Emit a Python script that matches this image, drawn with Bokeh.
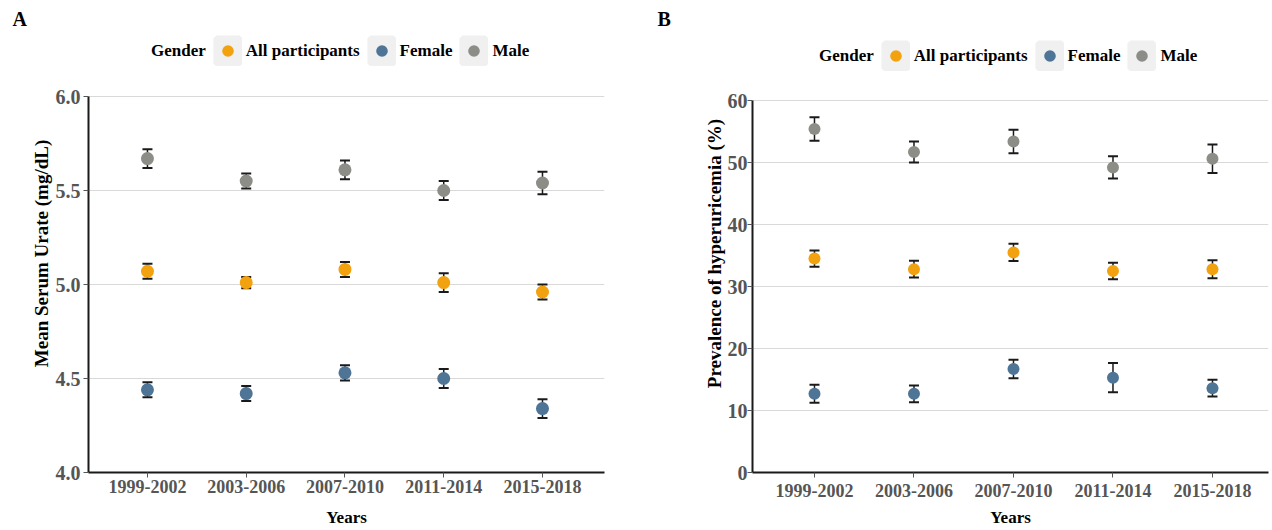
from bokeh.plotting import figure
from bokeh.models import (ColumnDataSource, Whisker, TeeHead, FixedTicker, Legend,
                          LegendItem, Range1d)
from bokeh.layouts import row
from bokeh.embed import file_html
from bokeh.resources import INLINE

# ---------------- data ----------------
years = ["1999-2002", "2003-2006", "2007-2010", "2011-2014", "2015-2018"]
groups = ["All participants", "Female", "Male"]

# Panel A: mean serum urate (mg/dL) and half-width of the 95% CI
urate_all = [5.07, 5.01, 5.08, 5.01, 4.96]
urate_all_err = [0.04, 0.03, 0.04, 0.05, 0.04]
urate_female = [4.44, 4.42, 4.53, 4.50, 4.34]
urate_female_err = [0.04, 0.04, 0.04, 0.05, 0.05]
urate_male = [5.67, 5.55, 5.61, 5.50, 5.54]
urate_male_err = [0.05, 0.04, 0.05, 0.05, 0.06]

# Panel B: prevalence of hyperuricemia (%) and half-width of the 95% CI
prev_all = [34.5, 32.8, 35.5, 32.5, 32.8]
prev_all_err = [1.3, 1.35, 1.4, 1.35, 1.45]
prev_female = [12.7, 12.7, 16.7, 15.3, 13.6]
prev_female_err = [1.45, 1.35, 1.5, 2.35, 1.35]
prev_male = [55.4, 51.7, 53.4, 49.2, 50.6]
prev_male_err = [1.9, 1.7, 1.9, 1.8, 2.3]

urate_ticks = [4.0, 4.5, 5.0, 5.5, 6.0]
prev_ticks = [0, 10, 20, 30, 40, 50, 60]

# ---------------- style ----------------
FONT = "Liberation Serif"
COLORS = {"All participants": "#F2A10F", "Female": "#4E7496", "Male": "#8D8D88"}
BOX = "#F0F0F0"
INK = "#1a1a1a"
TICKC = "#555555"

TOP = 34      # frame top (px); the frame also holds the legend row
BOTTOM = 472  # shared frame bottom (px) = x-axis line
HEIGHT = 530


def make_panel(letter, ylabel, series, yticks, yfmt, cfg):
    xs = list(range(len(years)))
    y0, y1 = yticks[0], yticks[-1]
    # pixel scale so that the top tick sits at the wanted row
    per_px = (y1 - y0) / (BOTTOM - cfg["ytop_px"])
    y_end = y1 + (cfg["ytop_px"] - TOP) * per_px
    p = figure(width=cfg["width"], height=HEIGHT,
               min_border_left=cfg["bl"], min_border_right=cfg["br"],
               min_border_top=TOP, min_border_bottom=HEIGHT - BOTTOM,
               x_range=Range1d(*cfg["xr"]), y_range=Range1d(y0, y_end),
               output_backend="svg", toolbar_location=None, tools="")
    p.outline_line_color = None
    p.background_fill_color = "white"
    p.border_fill_color = "white"

    bg = None
    items = []
    for name, vals, errs in series:
        src = ColumnDataSource(dict(
            x=xs, y=vals,
            upper=[v + e for v, e in zip(vals, errs)],
            lower=[v - e for v, e in zip(vals, errs)]))
        if bg is None:
            # legend-only helpers: grey box behind the legend glyphs, and a blank glyph
            bg = p.quad(left="x", right="x", top="y", bottom="y", source=src,
                        fill_color=BOX, line_color=BOX, line_width=6, visible=False)
            blank = p.scatter("x", "y", source=src, size=1, fill_alpha=0,
                              line_alpha=0, visible=False)
            items.append(LegendItem(label="Gender", renderers=[blank]))
        w = Whisker(source=src, base="x", upper="upper", lower="lower",
                    dimension="height", line_color=INK, line_width=1.5,
                    upper_head=TeeHead(size=10, line_color=INK, line_width=2),
                    lower_head=TeeHead(size=10, line_color=INK, line_width=2))
        p.add_layout(w)
        r = p.scatter("x", "y", source=src, size=cfg["ms"],
                      fill_color=COLORS[name], line_color=None)
        items.append(LegendItem(label=name, renderers=[bg, r]))

    leg = Legend(items=items, orientation="horizontal", location=cfg["legloc"],
                 padding=0, margin=0, spacing=7, label_standoff=4,
                 glyph_width=29, glyph_height=31, label_height=31,
                 border_line_color=None, background_fill_alpha=0,
                 label_text_font=FONT, label_text_font_style="bold",
                 label_text_font_size="17px", label_text_color="black")
    p.add_layout(leg)

    p.title.text = letter
    p.title.align = "left"
    p.title.offset = cfg["letter_off"]
    p.title.text_font = FONT
    p.title.text_font_style = "bold"
    p.title.text_font_size = "20px"
    p.title.text_color = "black"

    # axes
    p.xaxis.ticker = FixedTicker(ticks=xs)
    p.xaxis.major_label_overrides = {i: y for i, y in enumerate(years)}
    p.yaxis.ticker = FixedTicker(ticks=yticks)
    p.yaxis.major_label_overrides = {t: (yfmt % t) for t in yticks}
    p.yaxis.bounds = (y0, y1)
    for ax in (p.xaxis, p.yaxis):
        ax.axis_line_color = INK
        ax.axis_line_width = 2
        ax.major_tick_line_color = TICKC
        ax.major_tick_line_width = 1
        ax.major_tick_out = 5
        ax.major_tick_in = 0
        ax.minor_tick_line_color = None
        ax.major_label_text_font = FONT
        ax.major_label_text_font_style = "bold"
        ax.major_label_text_color = TICKC
        ax.axis_label_text_font = FONT
        ax.axis_label_text_font_style = "bold"
        ax.axis_label_text_color = "black"
    p.xaxis.major_label_text_font_size = "18px"
    p.yaxis.major_label_text_font_size = "20px"
    p.xaxis.axis_label = "Years"
    p.xaxis.axis_label_text_font_size = "17px"
    p.yaxis.axis_label = ylabel
    p.yaxis.axis_label_text_font_size = "19px"
    p.xaxis.major_label_standoff = cfg["xls"]
    p.xaxis.axis_label_standoff = cfg["xts"]
    p.yaxis.major_label_standoff = cfg["yls"]
    p.yaxis.axis_label_standoff = cfg["yts"]

    p.xgrid.grid_line_color = None
    p.ygrid.grid_line_color = "#d9d9d9"
    p.ygrid.grid_line_width = 1
    return p


cfg_a = dict(width=632, bl=88, br=28, ytop_px=96,
             xr=(-0.597, 4.628), ms=13, legloc=(30, BOTTOM - 66),
             letter_off=-76, xls=2, xts=12, yls=3, yts=1)
cfg_b = dict(width=638, bl=120, br=2, ytop_px=100,
             xr=(-0.623, 4.563), ms=12, legloc=(34, BOTTOM - 71),
             letter_off=-95, xls=6, xts=8, yls=0, yts=0)

pa = make_panel("A", "Mean Serum Urate (mg/dL)",
                [("All participants", urate_all, urate_all_err),
                 ("Female", urate_female, urate_female_err),
                 ("Male", urate_male, urate_male_err)],
                urate_ticks, "%.1f", cfg_a)
pb = make_panel("B", "Prevalence of hyperuricemia (%)",
                [("All participants", prev_all, prev_all_err),
                 ("Female", prev_female, prev_female_err),
                 ("Male", prev_male, prev_male_err)],
                prev_ticks, "%d", cfg_b)

layout = row(pa, pb)
open("out.html", "w").write(file_html(layout, INLINE))
